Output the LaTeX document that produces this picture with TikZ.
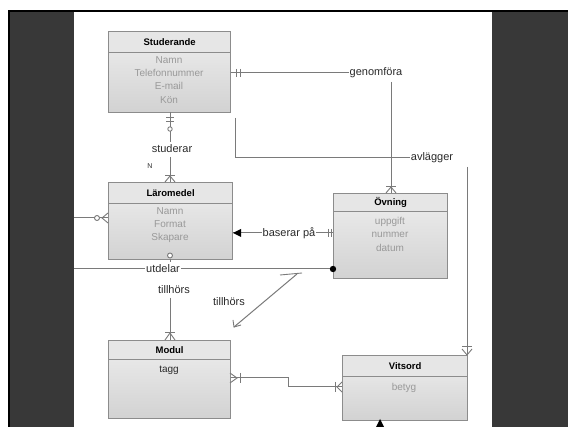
\documentclass[tikz,border=0pt]{standalone}
\usepackage{fontspec}
\setmainfont{Liberation Sans}
\usetikzlibrary{arrows.meta}
\definecolor{frame}{HTML}{383838}
\definecolor{boxline}{HTML}{8C8C8C}
\definecolor{boxtop}{HTML}{EEEEEE}
\definecolor{boxbot}{HTML}{D2D2D2}
\definecolor{hdrfill}{HTML}{E6E6E6}
\definecolor{lncol}{HTML}{7A7A7A}
\definecolor{labelcol}{HTML}{2A2A2A}
\definecolor{attrcol}{HTML}{999999}
\tikzset{
  box/.style={draw=boxline, line width=1.3pt, top color=boxtop, bottom color=boxbot, inner sep=0pt, anchor=north west},
  hdr/.style={draw=boxline, line width=1.3pt, fill=hdrfill, inner sep=0pt, anchor=north west, font=\bfseries\fontsize{9.5}{11}\selectfont, text=black},
  attr/.style={font=\fontsize{10}{11}\selectfont, text=attrcol, inner sep=0pt},
  keyattr/.style={font=\fontsize{10}{11}\selectfont, text=labelcol, inner sep=0pt},
  lbl/.style={font=\fontsize{11}{12}\selectfont, text=labelcol, fill=white, inner sep=1pt},
  conn/.style={draw=lncol, line width=1pt},
  tickln/.style={draw=lncol, line width=0.9pt},
}
\begin{document}
\begin{tikzpicture}[x=1pt,y=-1pt]
\useasboundingbox (0,0) rectangle (568,427);
% frame
\fill[white] (0,0) rectangle (568,427);
\fill[black] (8,10) rectangle (568,427);
\fill[frame] (10,12) rectangle (568,427);
\fill[white] (74,12) rectangle (492,427);

% ---------- boxes ----------
% Studerande
\node[box, minimum width=122pt, minimum height=81pt] (stud) at (108,31) {};
\node[hdr, minimum width=122pt, minimum height=21pt] (studh) at (108,31) {Studerande};
\node[attr] (stud1) at (169,60) {Namn};
\node[attr] (stud2) at (169,73) {Telefonnummer};
\node[attr] (stud3) at (169,86) {E-mail};
\node[attr] (stud4) at (169,100) {Kön};

% Läromedel
\node[box, minimum width=124pt, minimum height=77pt] (laro) at (108,182) {};
\node[hdr, minimum width=124pt, minimum height=21pt] (laroh) at (108,182) {Läromedel};
\node[attr] (laro1) at (170,211) {Namn};
\node[attr] (laro2) at (170,224) {Format};
\node[attr] (laro3) at (170,238) {Skapare};

% Övning
\node[box, minimum width=114pt, minimum height=85pt] (ovn) at (333,193) {};
\node[hdr, minimum width=114pt, minimum height=18pt] (ovnh) at (333,193) {Övning};
\node[attr] (ovn1) at (390,222) {uppgift};
\node[attr] (ovn2) at (390,235) {nummer};
\node[attr] (ovn3) at (390,248) {datum};

% Modul
\node[box, minimum width=122pt, minimum height=78pt] (modul) at (108,340) {};
\node[hdr, minimum width=122pt, minimum height=19pt] (modulh) at (108,340) {Modul};
\node[keyattr] (modul1) at (169,370) {tagg};

% Vitsord
\node[box, minimum width=125pt, minimum height=65pt] (vits) at (342,355) {};
\node[hdr, minimum width=125pt, minimum height=21pt] (vitsh) at (342,355) {Vitsord};
\node[attr] (vits1) at (404,388) {betyg};

% ---------- labels ----------
\node[lbl] (genom) at (376,73) {genomföra};
\node[lbl] (avl) at (432,158) {avlägger};
\node[lbl] (stu) at (172,149) {studerar};
\node[font=\fontsize{7}{8}\selectfont, text=labelcol, inner sep=0pt] (nmark) at (150,166) {N};
\node[lbl] (bas) at (289,233) {baserar på};
\node[lbl] (utd) at (163,269) {utdelar};
\node[lbl] (till1) at (174,290) {tillhörs};
\node[lbl] (till2) at (229,302) {tillhörs};

% ---------- coordinates ----------
\coordinate (left1) at (74,218);
\coordinate (left2) at (74,269);
\coordinate (av1) at (235,118);
\coordinate (av2) at (235,158);
\coordinate (t2a) at (297,274);
\coordinate (t2b) at (234,327);
\coordinate (mv1) at (288,378);
\coordinate (mv2) at (288,387);
\coordinate (vb) at (380,427);

% ---------- connectors ----------
% Studerande -- genomföra -- Övning
\draw[conn] (stud.east |- genom) -- (genom.west);
\draw[tickln] (236,69) -- (236,77) (240,69) -- (240,77);
\draw[conn] (391,82) -- (391,193);
\draw[tickln] (386,186) -- (396,186);
\draw[tickln] (386,193) -- (391,187) -- (396,193);

% Studerande -- avlägger -- Vitsord
\draw[conn] (av1) -- (av2) -- (avl.west);
\draw[conn] (467,167) -- (467,355);
\draw[tickln] (462,346) -- (472,346);
\draw[tickln] (462,349) -- (467,355) -- (472,349);

% Studerande -- studerar -- Läromedel
\draw[conn] (170,112) -- (170,142);
\draw[tickln] (166,117) -- (174,117) (166,121) -- (174,121);
\draw[tickln, fill=white] (170,129) circle (2.2);
\draw[conn] (170,157) -- (170,182);
\draw[tickln] (165,175) -- (175,175);
\draw[tickln] (165,182) -- (170,176) -- (175,182);

% left into Läromedel
\draw[conn] (left1) -- (laro.west |- left1);
\draw[tickln, fill=white] (97,218) circle (2.5);
\draw[tickln] (108,213) -- (102,218) -- (108,223);

% Läromedel -- baserar på -- Övning
\draw[conn] (laro.east |- bas) -- (bas.west);
\fill[black] (233,233) -- (241,229) -- (241,237) -- cycle;
\draw[conn] (bas.east) -- (ovn.west |- bas);
\draw[tickln] (328,229) -- (328,237) (331,229) -- (331,237);

% utdelar line
\draw[conn] (left2) -- (utd.west);
\draw[conn] (utd.east) -- (ovn.west |- left2);
\fill[black] (333,269) circle (3.2);
\draw[conn] (170,259) -- (170,262);
\draw[tickln, fill=white] (170,255.5) circle (2.5);

% tillhörs 1 -> Modul
\draw[conn] (170,298) -- (170,340);
\draw[tickln] (165,332) -- (175,332);
\draw[tickln] (165,340) -- (170,333) -- (175,340);

% tillhörs 2 diagonal
\draw[tickln] (280,275) -- (302,273);
\draw[conn] (t2a) -- (t2b);
\draw[tickln] (233,320) -- (234,327) -- (241,325);

% Modul -- Vitsord
\draw[conn] (modul.east |- mv1) -- (mv1) -- (mv2) -- (vits.west |- mv2);
\draw[tickln] (230,373) -- (237,378) -- (230,383);
\draw[tickln] (240,373) -- (240,383);
\draw[tickln] (335,382) -- (335,392);
\draw[tickln] (342,382) -- (337,387) -- (342,392);

% Vitsord bottom
\draw[conn] (380,420) -- (vb);
\fill[black] (380,419) -- (376,427) -- (384,427) -- cycle;
\end{tikzpicture}
\end{document}
